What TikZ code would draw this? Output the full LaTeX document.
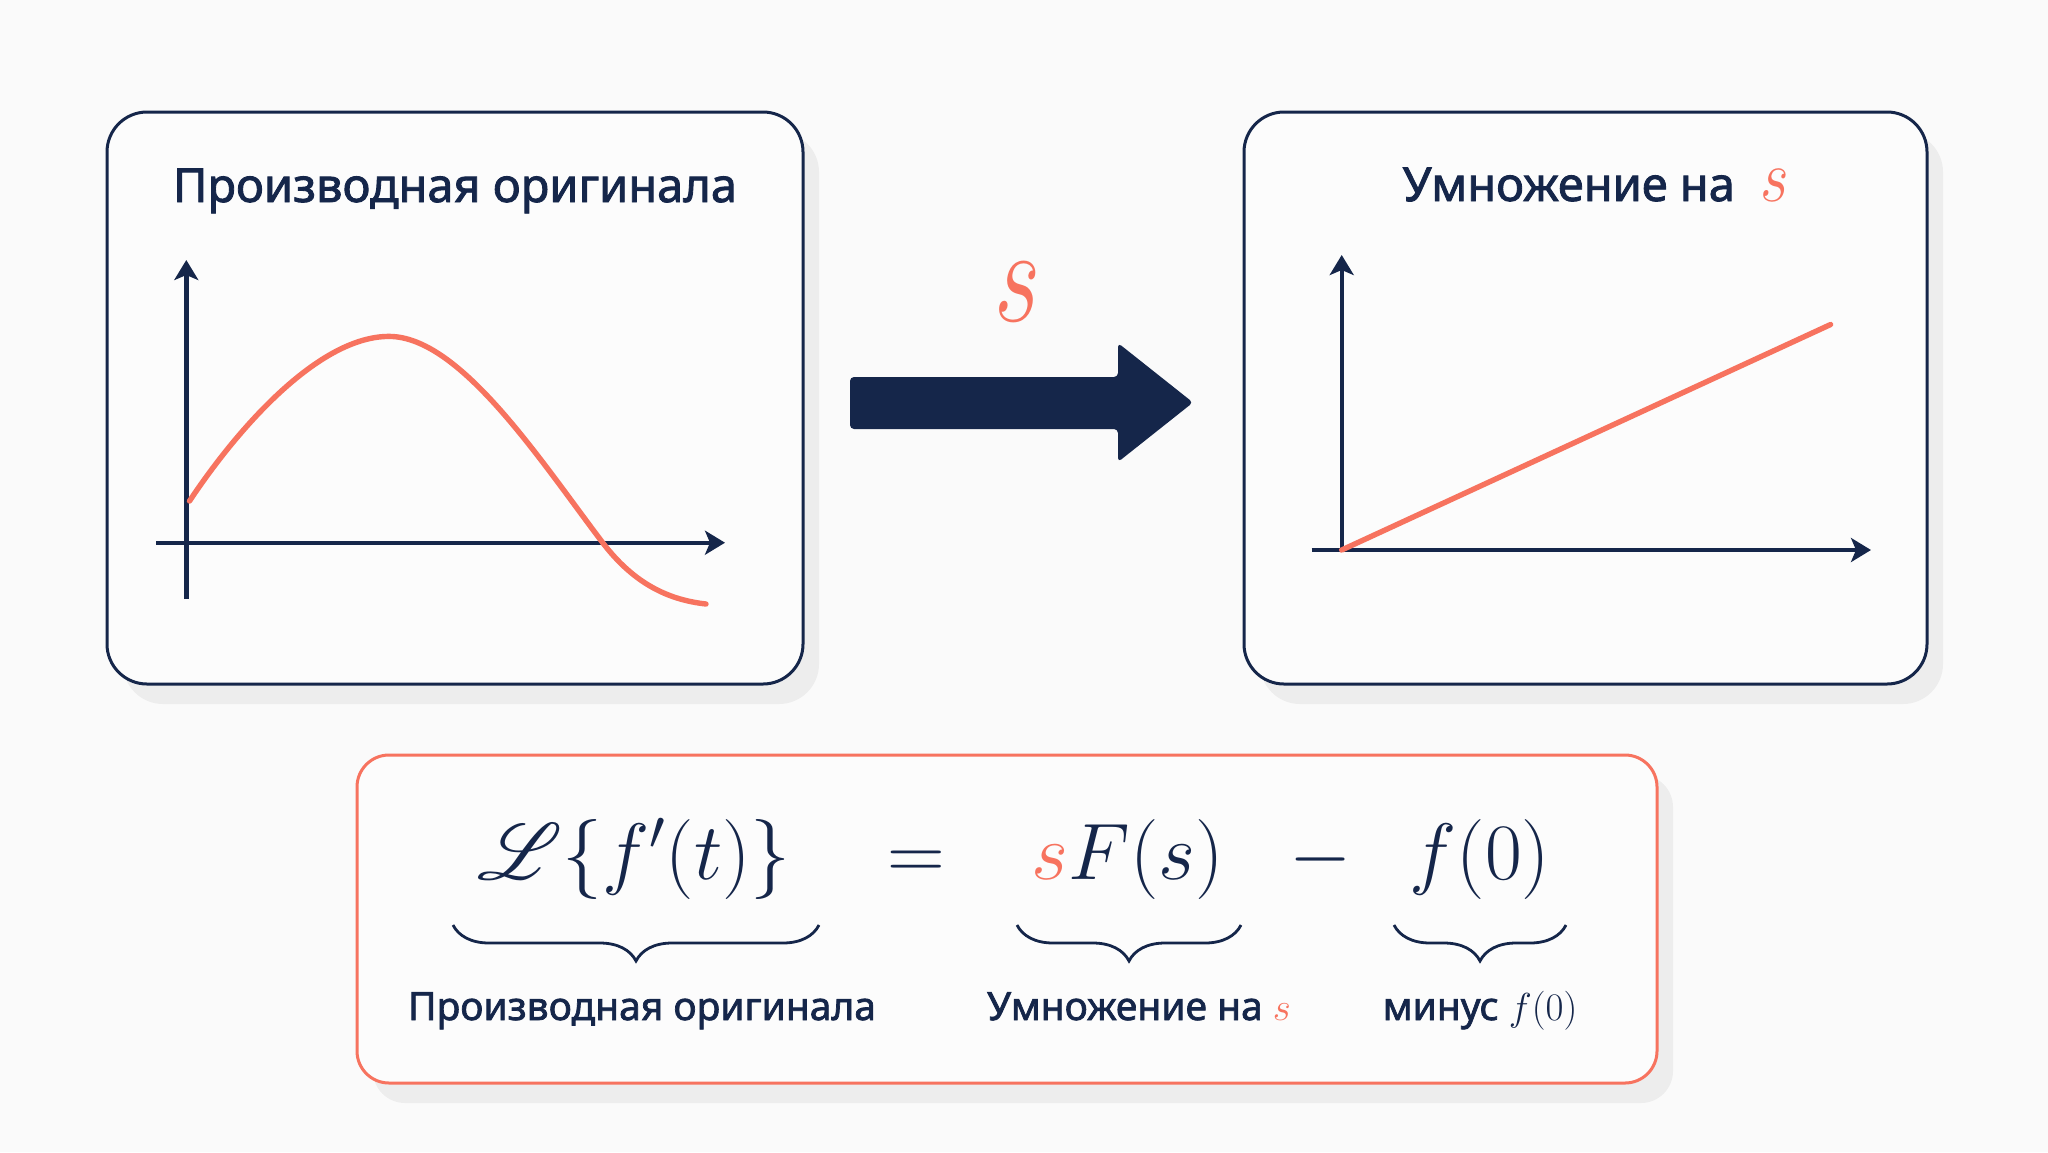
\documentclass[tikz,border=0pt]{standalone}
\usepackage{fix-cm}
\usepackage{fontspec}
\setmainfont{Noto Sans}
\newfontfamily\semib{Noto Sans}[FakeBold=1.8]
\usepackage{mathrsfs}
\usepackage{graphicx}
\usetikzlibrary{arrows.meta,decorations.pathreplacing,shadows}
\definecolor{navy}{HTML}{15264A}
\definecolor{coral}{HTML}{F7735F}
\definecolor{bgc}{HTML}{FAFAFA}
\definecolor{boxc}{HTML}{FCFCFC}
\begin{document}
\begin{tikzpicture}[x=0.5pt,y=-0.5pt,
  panel/.style={draw=navy, line width=1.5pt, fill=boxc, rounded corners=20pt, inner sep=0pt,
    drop shadow={shadow xshift=8pt, shadow yshift=-10pt, fill=black, opacity=0.05}},
  eqpanel/.style={draw=coral, line width=1.5pt, fill=boxc, rounded corners=16pt, inner sep=0pt,
    drop shadow={shadow xshift=8pt, shadow yshift=-10pt, fill=black, opacity=0.05}},
  axis/.style={navy, line width=2.2pt, -{Stealth[length=10pt,width=12pt,inset=2.5pt]}},
  graph/.style={coral, line width=2.7pt, line cap=round},
  title/.style={text=navy, anchor=base, inner sep=0pt, font=\fontsize{23.5}{28}\semib},
  lab/.style={text=navy, anchor=base, inner sep=0pt, font=\fontsize{19.5}{24}\semib},
  eqn/.style={text=navy, anchor=base, inner sep=0pt, font=\fontsize{40}{48}\selectfont},
  ubrace/.style={decorate, decoration={brace, mirror, amplitude=18pt}, navy, line width=1.4pt}
]
% background
\fill[bgc] (0,0) rectangle (2048,1152);
\useasboundingbox (0,0) rectangle (2048,1152);

% panels
\node[panel, minimum width=348pt, minimum height=286pt] (leftbox) at (455,398) {};
\node[panel, minimum width=341.5pt, minimum height=286pt] (rightbox) at (1585.5,398) {};
\node[eqpanel, minimum width=650pt, minimum height=164pt] (eqbox) at (1007,919) {};

% titles
\node[title] (lefttitle) at (455,202) {Производная оригинала};
\node[title] (righttitle) at (1596,201) {Умножение на\hspace{0.55em}{\color{coral}\scalebox{1}[1.2]{\fontsize{31}{31}\selectfont$s$}}};

% left plot
\coordinate (lyb) at (186.3,599);
\coordinate (lyt) at (186.3,260);
\coordinate (lxl) at (156,542.7);
\coordinate (lxr) at (725,542.7);
\coordinate (c0) at (189.5,501);
\coordinate (cpk) at (389,336.4);
\coordinate (cx) at (602.7,542.7);
\coordinate (cend) at (706,604);
\draw[axis] (lyb) -- (lyt);
\draw[axis] (lxl) -- (lxr);
\draw[graph] (c0) .. controls (240,425) and (320,336.4) .. (cpk)
  .. controls (460,336.4) and (540,460) .. (cx)
  .. controls (635,585) and (670,600) .. (cend);

% right plot
\coordinate (ro) at (1341.7,550);
\coordinate (ryt) at (1341.7,255);
\coordinate (rxl) at (1311.5,550);
\coordinate (rxr) at (1871,550);
\coordinate (rend) at (1830.6,324.5);
\draw[axis] (ro) -- (ryt);
\draw[axis] (rxl) -- (rxr);
\draw[graph] (ro) -- (rend);

% middle arrow
\fill[navy, rounded corners=2pt] (850,377) -- (1118,377) -- (1118,343) -- (1193,402.5) -- (1118,462) -- (1118,429) -- (850,429) -- cycle;
\node[inner sep=0pt, text=coral] (sop) at (1018,292) {\scalebox{1}[1.37]{\fontsize{50}{50}\selectfont$s$}};

% equation
\node[eqn] (lhs) at (634,879) {$\scalebox{1.6}{$\mathscr{L}$}\{f'(t)\}$};
\node[eqn] (eqsign) at (916,879) {$=$};
\node[eqn] (rhsa) at (1128,879) {${\color{coral}s}F(s)$};
\node[eqn] (minus) at (1320.5,879) {$-$};
\node[eqn] (rhsb) at (1480,879) {$f(0)$};

% braces
\coordinate (b1l) at (453,925);
\coordinate (b1r) at (819,925);
\coordinate (b2l) at (1017,925);
\coordinate (b2r) at (1241,925);
\coordinate (b3l) at (1394,925);
\coordinate (b3r) at (1566,925);
\draw[ubrace] (b1l) -- (b1r);
\draw[ubrace] (b2l) -- (b2r);
\draw[ubrace] (b3l) -- (b3r);

% labels
\node[lab] (lab1) at (642,1020) {Производная оригинала};
\node[lab] (lab2) at (1139,1020) {Умножение на {\color{coral}$s$}};
\node[lab] (lab3) at (1480,1020) {минус $f(0)$};
\end{tikzpicture}
\end{document}
